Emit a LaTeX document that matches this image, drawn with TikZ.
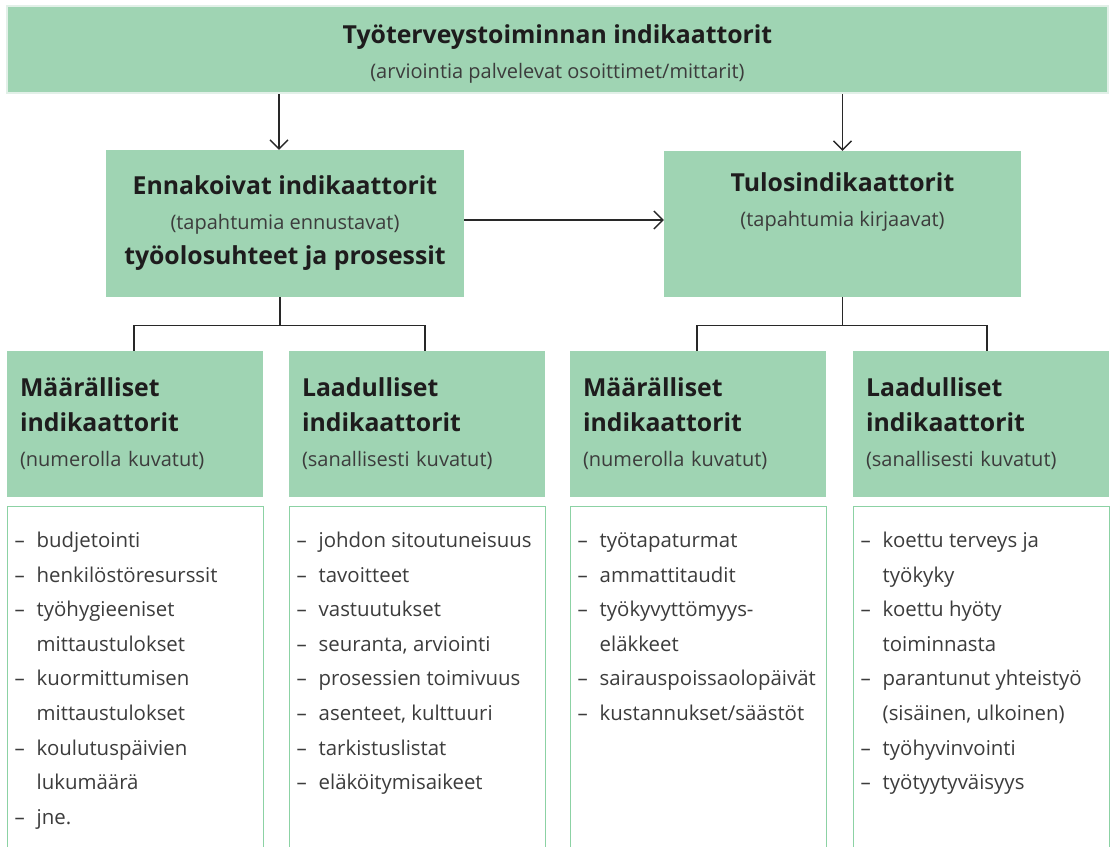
\documentclass[tikz,border=0pt]{standalone}
\usepackage{fontspec}
\setmainfont{Open Sans}
\usetikzlibrary{arrows.meta}
\definecolor{boxgreen}{RGB}{159,212,179}
\definecolor{edgegreen}{RGB}{140,210,164}
\definecolor{paleedge}{RGB}{226,240,232}
\definecolor{txt}{RGB}{60,60,60}
\definecolor{ink}{RGB}{30,28,29}
\definecolor{linec}{RGB}{40,40,40}
\newcommand\hdfont{\fontsize{24.8}{35}\selectfont\bfseries\color{ink}}
\newcommand\li[1]{\makebox[22pt][l]{–}#1}
\newcommand\lc[1]{\hspace*{22pt}#1}
\begin{document}
\begin{tikzpicture}[x=1pt,y=-1pt,
  gbox/.style={fill=boxgreen, draw=none, inner sep=0pt, text=txt,
    font=\fontsize{20}{35}\selectfont},
  hbox/.style={gbox, minimum width=256pt, minimum height=146pt,
    text width=230pt, align=left},
  lbox/.style={draw=edgegreen, line width=1pt, fill=white,
    minimum width=256pt, minimum height=345pt, anchor=north, inner sep=0pt},
  ltext/.style={anchor=north west, inner sep=0pt, align=left, text=txt,
    font=\fontsize{20.4}{34.6}\selectfont},
  arr/.style={draw=linec, line width=1.4pt, -{Straight Barb[length=9pt,width=18pt,line width=1.4pt]}},
  conn/.style={draw=linec, line width=1.2pt}]
\useasboundingbox (0,0) rectangle (1113,846);
\fill[white] (0,0) rectangle (1113,846);

% top box
\node[gbox, draw=paleedge, line width=2pt, minimum width=1101pt, minimum height=87pt,
  align=center] (top) at (557.5,49.5)
  {\rule{0pt}{27pt}{\hdfont Työterveystoiminnan indikaattorit}\\(arviointia palvelevat osoittimet/mittarit)};

% middle boxes
\node[gbox, minimum width=358pt, minimum height=147pt, align=center] (enn) at (285,223.5)
  {{\hdfont Ennakoivat indikaattorit}\\(tapahtumia ennustavat)\\{\hdfont työolosuhteet ja prosessit}};
\node[gbox, minimum width=357pt, minimum height=146pt, align=center] (tul) at (842.5,224)
  {{\hdfont Tulosindikaattorit}\\(tapahtumia kirjaavat)\\[13pt]\mbox{}};

% header boxes
\node[hbox] (h1) at (135,424) {{\hdfont Määrälliset}\\{\hdfont indikaattorit}\\(numerolla kuvatut)};
\node[hbox] (h2) at (417,424) {{\hdfont Laadulliset}\\{\hdfont indikaattorit}\\(sanallisesti kuvatut)};
\node[hbox] (h3) at (698,424) {{\hdfont Määrälliset}\\{\hdfont indikaattorit}\\(numerolla kuvatut)};
\node[hbox] (h4) at (981,424) {{\hdfont Laadulliset}\\{\hdfont indikaattorit}\\(sanallisesti kuvatut)};

% list boxes
\node[lbox] (b1) at (135,506) {};
\node[lbox] (b2) at (417,506) {};
\node[lbox] (b3) at (698,506) {};
\node[lbox] (b4) at (981,506) {};

\node[ltext] (t1) at ([xshift=8pt,yshift=-17pt]b1.north west)
  {\strut\li{budjetointi}\\\li{henkilöstöresurssit}\\\li{työhygieeniset}\\\lc{mittaustulokset}\\\li{kuormittumisen}\\\lc{mittaustulokset}\\\li{koulutuspäivien}\\\lc{lukumäärä}\\\li{jne.}};
\node[ltext] (t2) at ([xshift=8pt,yshift=-17pt]b2.north west)
  {\strut\li{johdon sitoutuneisuus}\\\li{tavoitteet}\\\li{vastuutukset}\\\li{seuranta, arviointi}\\\li{prosessien toimivuus}\\\li{asenteet, kulttuuri}\\\li{tarkistuslistat}\\\li{eläköitymisaikeet}};
\node[ltext] (t3) at ([xshift=8pt,yshift=-17pt]b3.north west)
  {\strut\li{työtapaturmat}\\\li{ammattitaudit}\\\li{työkyvyttömyys-}\\\lc{eläkkeet}\\\li{sairauspoissaolopäivät}\\\li{kustannukset/säästöt}};
\node[ltext] (t4) at ([xshift=8pt,yshift=-17pt]b4.north west)
  {\strut\li{koettu terveys ja}\\\lc{työkyky}\\\li{koettu hyöty}\\\lc{toiminnasta}\\\li{parantunut yhteistyö}\\\lc{(sisäinen, ulkoinen)}\\\li{työhyvinvointi}\\\li{työtyytyväisyys}};

% arrows
\draw[arr] ([xshift=-6pt]enn.north |- top.south) -- ([xshift=-6pt]enn.north);
\draw[arr] (tul.north |- top.south) -- (tul.north);
\draw[arr] ([yshift=3.5pt]enn.east) -- ([yshift=3.5pt]enn.east -| tul.west);

% tree connectors
\draw[conn] ([xshift=-5pt]enn.south) -- ++(0,28) coordinate (j1);
\draw[conn] ([xshift=-1pt]h1.north) |- (j1) -| ([xshift=8pt]h2.north);
\draw[conn] (tul.south) -- ++(0,28) coordinate (j2);
\draw[conn] ([xshift=-1pt]h3.north) |- (j2) -| ([xshift=6pt]h4.north);
\end{tikzpicture}
\end{document}
